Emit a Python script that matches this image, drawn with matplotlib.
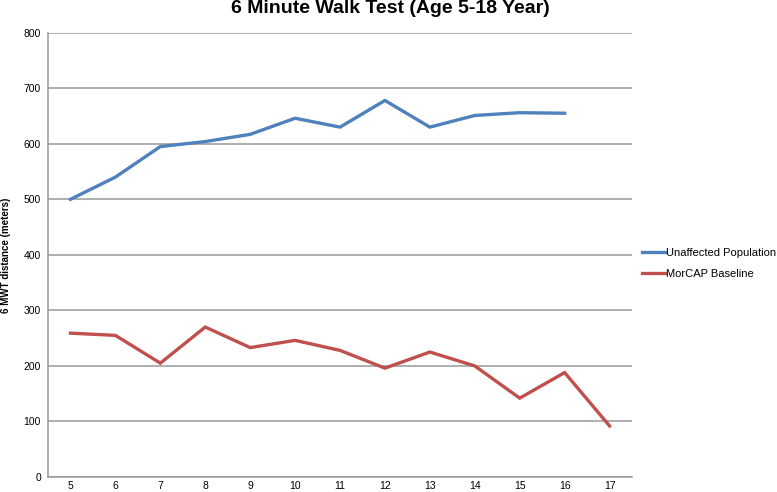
import matplotlib
matplotlib.use("Agg")
import matplotlib.pyplot as plt

# age categories
ages = [5, 6, 7, 8, 9, 10, 11, 12, 13, 14, 15, 16, 17]
# 6MWT distance (m)
unaffected = [500, 540, 595, 604, 617, 646, 630, 678, 630, 651, 656, 655]
morcap = [259, 255, 205, 270, 233, 246, 228, 196, 225, 200, 142, 188, 92]
y_ticks = [0, 100, 200, 300, 400, 500, 600, 700, 800]

plt.rcParams['font.family'] = ['Liberation Sans', 'DejaVu Sans']

fig = plt.figure(figsize=(7.77, 4.92), dpi=100)
ax = fig.add_axes([0.0618, 0.0305, 0.7516, 0.903])

ax.plot(ages[:len(unaffected)], unaffected, color='#4F81BD', lw=2.4,
        label="Unaffected Population", solid_joinstyle='miter')
ax.plot(ages, morcap, color='#C0504D', lw=2.4,
        label="MorCAP Baseline", solid_joinstyle='miter')

ax.set_xlim(4.5, 17.5)
ax.set_ylim(0, 800)
ax.set_xticks(ages)
ax.set_yticks(y_ticks)
ax.tick_params(axis='both', length=0, labelsize=7.5, colors='black')
ax.tick_params(axis='x', pad=3)
ax.tick_params(axis='y', pad=5)
ax.grid(axis='y', color='#999999', lw=1.1)
ax.set_axisbelow(True)
for s in ['top', 'right']:
    ax.spines[s].set_visible(False)
for s in ['left', 'bottom']:
    ax.spines[s].set_color('#999999')
    ax.spines[s].set_linewidth(1.1)

ax.set_ylabel("6 MWT distance (meters)", fontsize=7, fontweight='bold', labelpad=9)
fig.suptitle("6 Minute Walk Test (Age 5-18 Year)", fontsize=14, fontweight='bold',
             x=0.503, y=1.0, va='top')

ax.legend(loc='upper left', bbox_to_anchor=(1.01, 0.525), frameon=False,
          fontsize=8, handlelength=2.0, handletextpad=0.1, labelspacing=0.95,
          borderaxespad=0)

fig.savefig("out.png", dpi=100)
